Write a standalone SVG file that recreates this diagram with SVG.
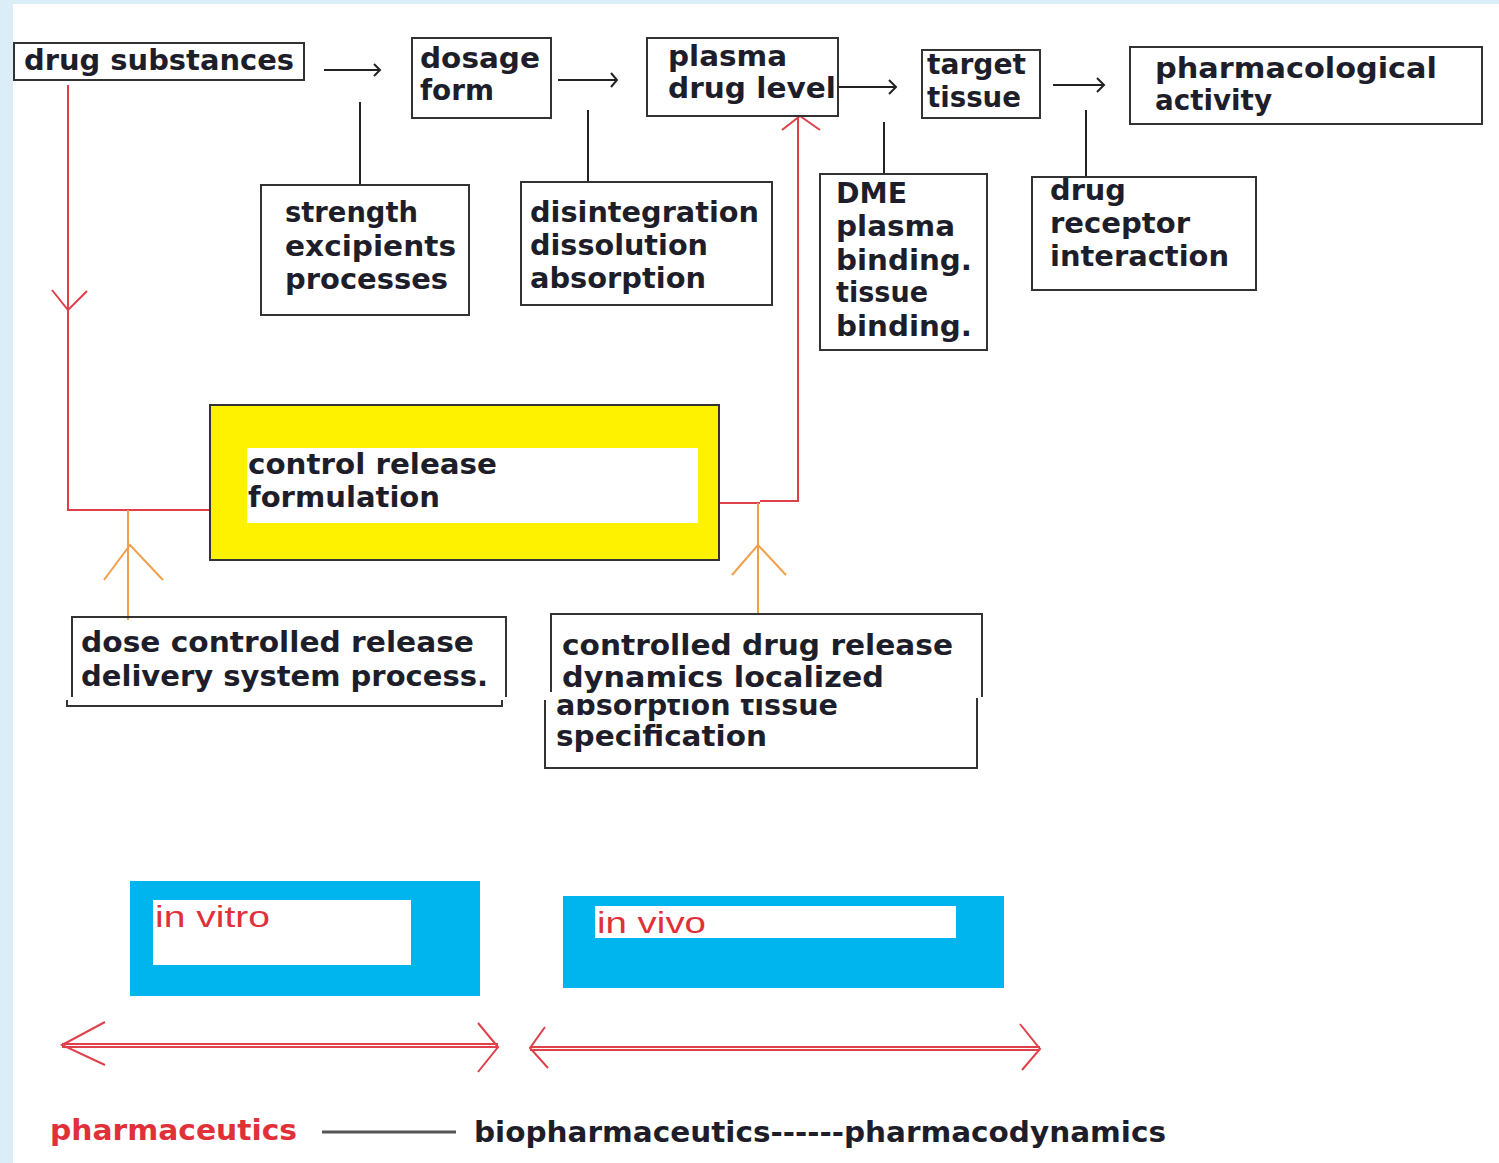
<svg xmlns="http://www.w3.org/2000/svg" width="1499" height="1163" viewBox="0 0 1499 1163">
<style>
.bx{fill:#fff;stroke:#333;stroke-width:2}
.ol{fill:none;stroke:#333;stroke-width:2}
.t{font-family:"DejaVu Sans",Verdana,sans-serif;font-weight:bold;font-size:28px;fill:#1e1e2a}
.ln{stroke:#222;stroke-width:2;fill:none}
.red{stroke:#e0404a;stroke-width:2;fill:none}
.org{stroke:#f0a04a;stroke-width:2;fill:none}
.rt{font-family:"Liberation Sans",Arial,sans-serif;font-size:30px;fill:#e0303a}
</style>
<defs>
<clipPath id="clipAbs"><rect x="540" y="699" width="450" height="80"/></clipPath>
</defs>
<rect x="0" y="0" width="1499" height="1163" fill="#ffffff"/>
<rect x="0" y="0" width="1499" height="4" fill="#dbeef8"/>
<rect x="0" y="0" width="13" height="1163" fill="#dbeef8"/>

<g id="connectors">
<!-- top row arrows -->
<path class="ln" d="M324,70 H380 M374,64 L380,70 L374,76"/>
<path class="ln" d="M558,80 H617 M611,73 L617,80 L611,87"/>
<path class="ln" d="M838,87 H896 M889,80 L896,87 L889,94"/>
<path class="ln" d="M1053,85 H1104 M1097,78 L1104,85 L1097,92"/>
<!-- verticals -->
<path class="ln" d="M360,102 V185"/>
<path class="ln" d="M588,110 V183"/>
<path class="ln" d="M884,122 V174"/>
<path class="ln" d="M1086,110 V178"/>
<!-- red loop -->
<path class="red" d="M68,85 V510 H210"/>
<path class="red" d="M52,290 L68,310 L87,291"/>
<path class="red" d="M719,503 H760 M760,501 H798 V116"/>
<path class="red" d="M782,130 L800,116 L820,130"/>
<!-- orange -->
<path class="org" d="M128,620 V510"/>
<path class="org" d="M104,580 L130,545 L163,580"/>
<path class="org" d="M758,613 V503"/>
<path class="org" d="M732,575 L758,545 L786,575"/>
<!-- red double arrows -->
<path class="red" d="M62,1044 H498 M62,1047 H498"/>
<path class="red" d="M105,1022 L62,1045 L105,1065"/>
<path class="red" d="M478,1023 L498,1047 L478,1072"/>
<path class="red" d="M530,1047 H1040 M530,1050 H1040"/>
<path class="red" d="M545,1027 L530,1048 L548,1068"/>
<path class="red" d="M1020,1024 L1040,1049 L1022,1070"/>
<!-- bottom dash -->
<path d="M322,1132 H456" stroke="#555" stroke-width="3"/>
</g>

<g id="drug-substances">
<rect class="bx" x="14" y="43" width="290" height="37"/>
<text class="t" x="24" y="70" textLength="270" lengthAdjust="spacingAndGlyphs">drug substances</text>
</g>
<g id="dosage-form">
<rect class="bx" x="412" y="38" width="139" height="80"/>
<text class="t" x="420" y="68" textLength="120" lengthAdjust="spacingAndGlyphs">dosage</text>
<text class="t" x="420" y="100" textLength="74" lengthAdjust="spacingAndGlyphs">form</text>
</g>
<g id="plasma-drug-level">
<rect class="bx" x="647" y="38" width="191" height="78"/>
<text class="t" x="668" y="66" textLength="119" lengthAdjust="spacingAndGlyphs">plasma</text>
<text class="t" x="668" y="98" textLength="168" lengthAdjust="spacingAndGlyphs">drug level</text>
</g>
<g id="target-tissue">
<rect class="bx" x="922" y="50" width="118" height="68"/>
<text class="t" x="927" y="74" textLength="99" lengthAdjust="spacingAndGlyphs">target</text>
<text class="t" x="927" y="107" textLength="94" lengthAdjust="spacingAndGlyphs">tissue</text>
</g>
<g id="pharmacological-activity">
<rect class="bx" x="1130" y="47" width="352" height="77"/>
<text class="t" x="1155" y="78" textLength="282" lengthAdjust="spacingAndGlyphs">pharmacological</text>
<text class="t" x="1155" y="110" textLength="117" lengthAdjust="spacingAndGlyphs">activity</text>
</g>
<g id="strength">
<rect class="bx" x="261" y="185" width="208" height="130"/>
<text class="t" x="285" y="222" textLength="133" lengthAdjust="spacingAndGlyphs">strength</text>
<text class="t" x="285" y="256" textLength="171" lengthAdjust="spacingAndGlyphs">excipients</text>
<text class="t" x="285" y="289" textLength="163" lengthAdjust="spacingAndGlyphs">processes</text>
</g>
<g id="disintegration">
<rect class="bx" x="521" y="182" width="251" height="123"/>
<text class="t" x="530" y="222" textLength="229" lengthAdjust="spacingAndGlyphs">disintegration</text>
<text class="t" x="530" y="255" textLength="178" lengthAdjust="spacingAndGlyphs">dissolution</text>
<text class="t" x="530" y="288" textLength="176" lengthAdjust="spacingAndGlyphs">absorption</text>
</g>
<g id="dme">
<rect class="bx" x="820" y="174" width="167" height="176"/>
<text class="t" x="836" y="203" textLength="71" lengthAdjust="spacingAndGlyphs">DME</text>
<text class="t" x="836" y="236" textLength="119" lengthAdjust="spacingAndGlyphs">plasma</text>
<text class="t" x="836" y="270" textLength="136" lengthAdjust="spacingAndGlyphs">binding.</text>
<text class="t" x="836" y="302" textLength="92" lengthAdjust="spacingAndGlyphs">tissue</text>
<text class="t" x="836" y="336" textLength="136" lengthAdjust="spacingAndGlyphs">binding.</text>
</g>
<g id="drug-receptor">
<rect class="bx" x="1032" y="177" width="224" height="113"/>
<text class="t" x="1050" y="200" textLength="76" lengthAdjust="spacingAndGlyphs">drug</text>
<text class="t" x="1050" y="233" textLength="140" lengthAdjust="spacingAndGlyphs">receptor</text>
<text class="t" x="1050" y="266" textLength="179" lengthAdjust="spacingAndGlyphs">interaction</text>
</g>
<g id="control-release">
<rect x="210" y="405" width="509" height="155" fill="#fff200" stroke="#333" stroke-width="2"/>
<rect x="247" y="448" width="451" height="75" fill="#fff"/>
<text class="t" x="248" y="474" textLength="249" lengthAdjust="spacingAndGlyphs">control release</text>
<text class="t" x="248" y="507" textLength="192" lengthAdjust="spacingAndGlyphs">formulation</text>
</g>
<g id="dose-controlled">
<path class="ol" d="M72,697 V617 H506 V697"/>
<path class="ol" d="M67,700 V706 H502 V700"/>
<text class="t" x="81" y="652" textLength="393" lengthAdjust="spacingAndGlyphs">dose controlled release</text>
<text class="t" x="81" y="686" textLength="407" lengthAdjust="spacingAndGlyphs">delivery system process.</text>
</g>
<g id="controlled-drug-release">
<path class="ol" d="M551,692 V614 H982 V697"/>
<path class="ol" d="M545,700 V768 H977 V698"/>
<text class="t" x="562" y="655" textLength="391" lengthAdjust="spacingAndGlyphs">controlled drug release</text>
<text class="t" x="562" y="687" textLength="322" lengthAdjust="spacingAndGlyphs">dynamics localized</text>
<text class="t" x="556" y="715" textLength="282" lengthAdjust="spacingAndGlyphs" clip-path="url(#clipAbs)">absorption tissue</text>
<text class="t" x="556" y="746" textLength="211" lengthAdjust="spacingAndGlyphs">specification</text>
</g>
<g id="in-vitro">
<rect x="130" y="881" width="350" height="115" fill="#00b4ee"/>
<rect x="153" y="900" width="258" height="65" fill="#fff"/>
<text class="rt" x="155" y="927" textLength="115" lengthAdjust="spacingAndGlyphs">in vitro</text>
</g>
<g id="in-vivo">
<rect x="563" y="896" width="441" height="92" fill="#00b4ee"/>
<rect x="595" y="906" width="361" height="32" fill="#fff"/>
<text class="rt" x="597" y="933" textLength="109" lengthAdjust="spacingAndGlyphs">in vivo</text>
</g>
<g id="labels">
<text class="t" x="50" y="1140" style="fill:#e0303a" textLength="247" lengthAdjust="spacingAndGlyphs">pharmaceutics</text>
<text class="t" x="474" y="1142" textLength="692" lengthAdjust="spacingAndGlyphs">biopharmaceutics------pharmacodynamics</text>
</g>
</svg>
